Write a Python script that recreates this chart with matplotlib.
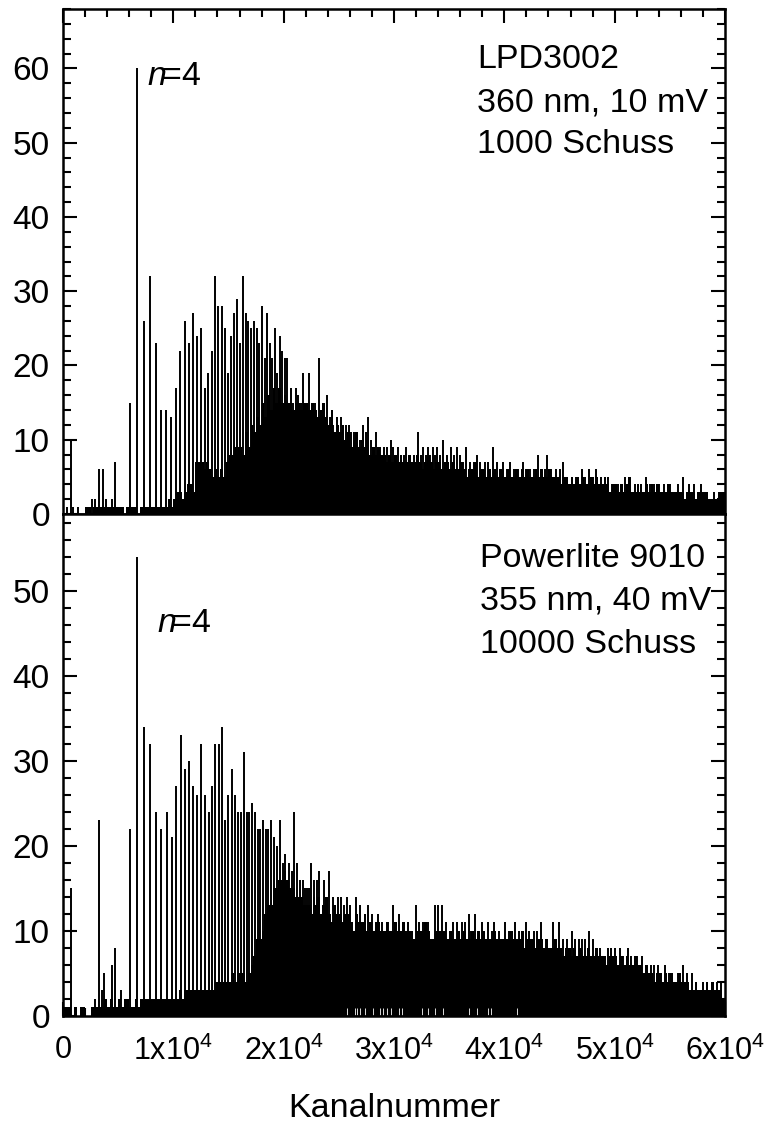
import numpy as np
import matplotlib
matplotlib.use('Agg')
from matplotlib import pyplot as plt
from matplotlib.ticker import MultipleLocator

plt.rcParams['font.family'] = ['Liberation Sans', 'DejaVu Sans']
plt.rcParams['mathtext.fontset'] = 'custom'
plt.rcParams['mathtext.rm'] = 'Liberation Sans'
plt.rcParams['mathtext.it'] = 'Liberation Sans:italic'

floor_step = 250

# LPD3002 spectrum: solid part per 250 channels, then the single lines on top
top_floor = [0, 0, 0, 0, 0, 0, 0, 0, 1, 1, 0, 1, 1, 1, 1, 1, 1, 1, 1, 1,
             1, 1, 0, 1, 1, 1, 1, 0, 1, 1, 1, 1, 1, 1, 1, 1, 1, 1, 2, 1,
             2, 3, 3, 2, 3, 4, 4, 3, 7, 7, 7, 6, 7, 6, 5, 6, 5, 6, 5, 7,
             8, 8, 9, 9, 9, 8, 11, 9, 12, 11, 13, 12, 15, 13, 16, 14, 17, 15, 17, 15,
             16, 15, 15, 14, 15, 15, 14, 15, 15, 14, 15, 14, 13, 14, 15, 13, 12, 14, 11, 12,
             11, 12, 10, 11, 9, 10, 11, 9, 10, 9, 10, 8, 9, 8, 9, 8, 8, 7, 8, 7,
             8, 7, 8, 7, 7, 8, 7, 7, 8, 7, 6, 7, 8, 7, 6, 7, 7, 6, 7, 7,
             6, 7, 6, 6, 7, 6, 5, 6, 6, 7, 5, 6, 6, 5, 6, 5, 6, 5, 6, 6,
             5, 6, 5, 5, 6, 5, 6, 5, 6, 5, 5, 6, 5, 6, 5, 5, 6, 5, 5, 5,
             4, 5, 5, 4, 5, 4, 5, 4, 5, 4, 4, 5, 4, 5, 4, 4, 5, 4, 3, 4,
             4, 3, 4, 3, 4, 5, 3, 3, 4, 3, 3, 4, 3, 4, 3, 4, 3, 3, 3, 4,
             3, 3, 3, 3, 3, 2, 3, 3, 3, 2, 3, 3, 3, 3, 2, 2, 2, 2, 3, 3]
top_line_x = [30, 330, 694, 935, 1390, 2600, 2900, 3260, 3590, 3865, 4410, 4680, 6070, 6734,
              7340, 7880, 8420, 8880, 9330, 9780, 10240, 10600, 11020, 11385, 11750, 12110,
              12470, 12835, 13135, 13470, 13740, 14070, 14405, 14680, 14950, 15220, 15460,
              15760, 16035, 16310, 16550, 16790, 17060, 17300, 17545, 17790, 18030, 18270,
              18480, 18725, 18935, 19175, 19390, 19630, 19840, 20110, 20325, 20625, 20870,
              21080, 21320, 21530, 21775, 22015, 22290, 22560, 22830, 23160, 23900, 24200,
              24800, 25165, 25620, 25950, 26070, 26675, 27220, 27670, 28365, 28730, 29120,
              29695, 30330, 31085, 32200, 32650, 33080, 33500, 33920, 34470, 35130, 35670,
              36490, 37490, 38240, 38935, 40510, 41650, 42320, 43010, 43890, 45280, 47000,
              47690, 48300, 49415, 50925, 52800, 56210, 57780]
top_line_y = [1, 1, 10, 1, 1, 2, 2, 6, 6, 2, 2, 7, 15, 60,
              26, 32, 23, 14, 14, 13, 17, 22, 26, 23, 27, 24,
              25, 17, 19, 22, 32, 28, 28, 25, 19, 24, 27,
              29, 23, 32, 27, 26, 25, 26, 25, 23, 28, 21,
              27, 23, 21, 25, 19, 24, 22, 21, 21, 17, 15,
              17, 16, 15, 19, 15, 19, 15, 15, 21, 16, 13,
              13, 13, 12, 12, 11, 10, 12, 13, 11, 9, 9,
              10, 9, 9, 11, 9, 9, 9, 9, 10, 9, 9,
              9, 8, 7, 9, 7, 7, 6, 8, 8, 7, 6,
              6, 6, 5, 5, 5, 5, 4]
top_small_x = [24500, 25400, 26350, 26950, 27450, 27950, 28550, 29400, 29950, 30650, 30950,
               31450, 31850, 32450, 32900, 33300, 33750, 34150, 34800, 35400, 35950, 36250,
               36900, 37250, 37800, 38500, 39350, 39850, 40200, 40900, 41250, 41950, 42650,
               43350, 43650, 44250, 44650, 45000, 45650, 46100, 46500, 47350, 48000, 48800,
               49100, 49800, 50300, 50600, 51350, 51800, 52350, 53200, 53600, 54050, 54500,
               55000, 55700, 56700, 57200, 58200, 59000, 59500]
top_small_y = [12, 12, 11, 10, 11, 10, 9, 9, 9, 8, 8,
               8, 8, 8, 8, 8, 8, 8, 8, 8, 8, 7,
               7, 7, 7, 7, 7, 7, 6, 6, 6, 6, 6,
               6, 6, 6, 6, 6, 5, 5, 5, 5, 5, 5,
               4, 4, 4, 4, 4, 4, 4, 4, 4, 4, 4,
               4, 4, 4, 4, 3, 3, 3]

# Powerlite 9010 spectrum
bottom_floor = [1, 1, 1, 0, 1, 0, 1, 1, 0, 0, 1, 1, 1, 1, 1, 2, 1, 2, 1, 1,
                2, 1, 2, 2, 1, 1, 2, 1, 2, 2, 2, 2, 2, 2, 2, 2, 2, 2, 2, 2,
                2, 2, 3, 2, 3, 3, 3, 3, 3, 3, 3, 3, 3, 3, 3, 4, 4, 4, 4, 4,
                4, 5, 4, 5, 5, 5, 4, 5, 6, 7, 9, 9, 10, 12, 13, 13, 15, 15, 16, 16,
                17, 16, 15, 15, 14, 14, 14, 13, 13, 13, 12, 13, 14, 12, 13, 14, 12, 11, 13, 12,
                12, 11, 12, 12, 11, 10, 12, 11, 11, 12, 10, 11, 10, 11, 11, 10, 10, 11, 10, 10,
                11, 10, 10, 11, 10, 10, 10, 9, 10, 10, 10, 11, 10, 9, 9, 10, 10, 10, 10, 9,
                10, 9, 9, 10, 9, 10, 9, 9, 10, 9, 10, 9, 10, 9, 9, 9, 10, 9, 9, 9,
                9, 9, 10, 9, 9, 9, 10, 8, 9, 9, 9, 8, 9, 9, 8, 9, 8, 8, 9, 8,
                8, 7, 8, 8, 7, 8, 7, 8, 7, 7, 8, 7, 7, 8, 7, 7, 7, 6, 7, 7,
                7, 6, 7, 6, 7, 6, 6, 7, 6, 6, 5, 6, 5, 5, 4, 5, 5, 4, 5, 4,
                5, 4, 4, 5, 4, 4, 4, 3, 3, 4, 3, 3, 3, 4, 3, 4, 3, 3, 3, 2]
bottom_line_x = [694, 2900, 3260, 3560, 3685, 4410, 4680, 5225, 6070, 6734, 7340, 7880, 8420,
                 8880, 9390, 9845, 10240, 10660, 11020, 11385, 11750, 12110, 12470, 12835,
                 13200, 13500, 13800, 14100, 14405, 14680, 14980, 15280, 15550, 15825, 16095,
                 16370, 16640, 16880, 17155, 17395, 17635, 17880, 18120, 18360, 18600, 18845,
                 19085, 19390, 19660, 19900, 20110, 20505, 20745, 20960, 21170, 21470, 21715,
                 21925, 22135, 22320, 22500, 22770, 22980, 23200, 23650, 24140, 24500, 25165,
                 25700, 26525, 27610, 28520, 29935, 30480, 31960, 32650, 33680, 33980, 34345,
                 35310, 36130, 36790, 37335, 37940, 38540, 39055, 40050, 40960, 41925, 43315,
                 44430, 44945, 46090, 46760, 47635, 48300, 50020, 50470, 51165, 53885, 54550,
                 56210]
bottom_line_y = [15, 2, 23, 3, 5, 6, 8, 3, 22, 54, 34, 32, 24,
                 22, 24, 21, 27, 33, 29, 30, 27, 26, 32, 26,
                 24, 27, 32, 32, 34, 23, 26, 29, 26, 24, 24,
                 31, 24, 24, 25, 24, 22, 22, 23, 22, 22, 23,
                 21, 20, 23, 18, 19, 18, 17, 24, 18, 16, 16,
                 15, 15, 15, 18, 16, 16, 17, 16, 17, 14, 14,
                 14, 14, 13, 12, 13, 12, 13, 11, 13, 13, 13,
                 11, 11, 12, 12, 11, 11, 11, 11, 11, 11, 11,
                 11, 11, 10, 9, 10, 8, 8, 8, 8, 6, 6,
                 6]
bottom_small_x = [22750, 24900, 25450, 26050, 26900, 27350, 28000, 28950, 29450, 30150, 30800,
                  31300, 32250, 33100, 34700, 35700, 36450, 37000, 38200, 38900, 39500, 40400,
                  41300, 42200, 42700, 43000, 43800, 44700, 45300, 45700, 46400, 47000, 47300,
                  48000, 48700, 49400, 49700, 50800, 51500, 52000, 52500, 53300, 53600, 54200,
                  54900, 55200, 55700, 56600, 57000, 57400, 58000, 58400, 58900, 59300, 59600]
bottom_small_y = [14, 14, 13, 13, 13, 12, 12, 11, 11, 11, 11,
                  11, 11, 11, 11, 11, 11, 10, 10, 10, 10, 10,
                  10, 10, 10, 10, 9, 9, 9, 9, 9, 9, 9,
                  9, 8, 8, 8, 7, 7, 7, 7, 6, 6, 5,
                  5, 5, 5, 5, 5, 4, 4, 4, 4, 4, 4]
bottom_gap_x = [25710, 26460, 26675, 26915, 27370, 28125, 28730, 29030, 29390, 29695, 30420,
                30690, 32560, 33075, 33680, 34465, 36790, 37515, 38545, 38755, 41170]

x_ticks = [0, 10000, 20000, 30000, 40000, 50000, 60000]
x_tick_labels = ['0', '1x10$^{4}$', '2x10$^{4}$', '3x10$^{4}$', '4x10$^{4}$', '5x10$^{4}$', '6x10$^{4}$']

W, H = 768, 1122
fig = plt.figure(figsize=(W / 100, H / 100), dpi=100)
ax1 = fig.add_axes([63 / W, 1 - 514 / H, 662 / W, 505 / H])
ax2 = fig.add_axes([63 / W, 1 - 1016 / H, 662 / W, 502 / H])


def draw_panel(ax, floor, line_x, line_y, small_x, small_y, ymax):
    edges = np.arange(len(floor) + 1) * floor_step
    ax.fill_between(edges, 0, list(floor) + [floor[-1]], step='post', color='black', lw=0)
    ax.vlines(line_x, 0, line_y, color='black', lw=1.4)
    ax.vlines(small_x, 0, small_y, color='black', lw=1.4)
    ax.set_xlim(0, 60000)
    ax.set_ylim(0, ymax)
    ax.yaxis.set_major_locator(MultipleLocator(10))
    ax.yaxis.set_minor_locator(MultipleLocator(2))
    ax.xaxis.set_major_locator(MultipleLocator(10000))
    ax.xaxis.set_minor_locator(MultipleLocator(2000))
    ax.tick_params(which='major', direction='in', length=10, width=1.5, top=True, right=True,
                   labelsize=24, pad=9.5)
    ax.tick_params(which='minor', direction='in', length=5.5, width=1.5, top=True, right=True)
    for s in ax.spines.values():
        s.set_linewidth(1.8)
        s.set_zorder(5)
    ax.set_axisbelow(False)


draw_panel(ax1, top_floor, top_line_x, top_line_y, top_small_x, top_small_y, 68)
draw_panel(ax2, bottom_floor, bottom_line_x, bottom_line_y, bottom_small_x, bottom_small_y, 59)
ax2.vlines(bottom_gap_x, 0.15, 0.9, color='white', lw=0.6)

ax1.tick_params(axis='x', which='both', labelbottom=False, bottom=False)
ax2.tick_params(axis='x', which='both', top=False)
ax2.set_xticks(x_ticks)
ax2.set_xticklabels(x_tick_labels)
ax2.tick_params(axis='x', which='major', labelsize=22, pad=14)
ax2.set_xlabel('Kanalnummer', fontsize=24.5, labelpad=19)

fig.text(147 / W, 1 - 85 / H, r'$\mathit{n}\!$=4', fontsize=24.5)
fig.text(157 / W, 1 - 632 / H, r'$\mathit{n}\!$=4', fontsize=24.5)

for txt, y in zip(['LPD3002', '360 nm, 10 mV', '1000 Schuss'], [68, 111, 153]):
    fig.text(477 / W, 1 - y / H, txt, fontsize=24.5)
for txt, y in zip(['Powerlite 9010', '355 nm, 40 mV', '10000 Schuss'], [567, 610, 653]):
    fig.text(480 / W, 1 - y / H, txt, fontsize=24.5)

plt.savefig('out.png', dpi=100)
